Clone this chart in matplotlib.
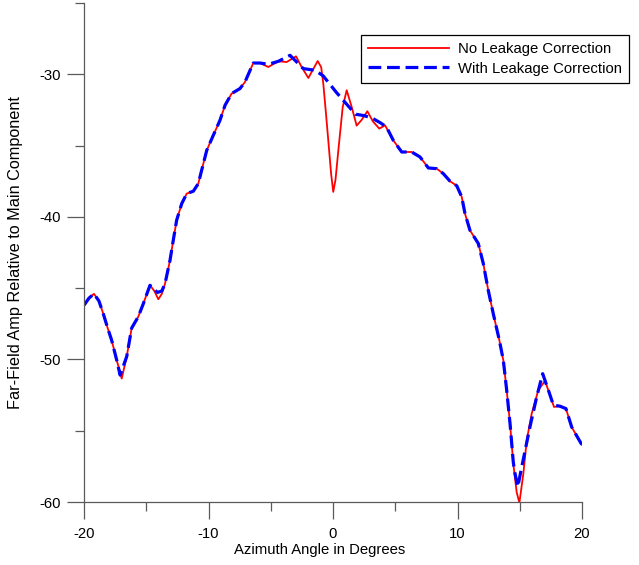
"""
Far-field amplitude vs azimuth, with and without leakage correction.
"""

import matplotlib.pyplot as plt
from matplotlib.ticker import MultipleLocator

# ---------- DATA ----------
no_corr_az = [
    -20.0, -19.6, -19.2, -18.8, -18.45, -18.1, -17.78, -17.37, -16.97, -16.57,
    -16.17, -15.64, -15.24, -14.7, -14.35, -14.03, -13.75, -13.49, -13.09, -12.83,
    -12.56, -12.15, -11.75, -11.22, -10.82, -10.55, -10.14, -9.6, -9.08, -8.67,
    -8.14, -7.47, -7.07, -6.7, -6.4, -5.86, -5.2, -4.39, -3.72, -2.97,
    -2.52, -1.98, -1.23, -0.95, -0.78, -0.58, -0.38, -0.15, 0.02, 0.2,
    0.43, 0.78, 1.1, 1.5, 1.9, 2.3, 2.76, 3.2, 3.72, 4.18,
    4.84, 5.52, 6.32, 6.99, 7.66, 8.33, 8.86, 9.4, 9.94, 10.34,
    10.6, 11.0, 11.67, 12.07, 12.47, 12.87, 13.36, 13.68, 13.95, 14.22,
    14.48, 14.75, 14.97, 15.29, 15.56, 15.96, 16.49, 17.03, 17.43, 17.75,
    18.23, 18.71, 19.17, 19.6, 20.0,
]
no_corr_amp = [
    -46.2, -45.7, -45.4, -45.9, -46.8, -47.8, -48.65, -50.06, -51.34, -49.8,
    -47.8, -47.0, -46.1, -44.8, -45.2, -45.78, -45.4, -44.68, -43.04, -41.64,
    -40.24, -39.07, -38.37, -38.2, -37.67, -36.73, -35.33, -34.25, -33.23, -32.17,
    -31.35, -31.0, -30.54, -29.8, -29.21, -29.21, -29.49, -29.09, -29.14, -28.74,
    -29.49, -30.26, -29.07, -29.5, -30.65, -32.6, -34.63, -37.0, -38.25, -37.4,
    -35.33, -32.29, -31.12, -32.29, -33.6, -33.2, -32.59, -33.3, -33.81, -33.58,
    -34.63, -35.45, -35.45, -35.8, -36.57, -36.62, -36.97, -37.5, -37.82, -38.6,
    -39.77, -40.94, -41.87, -43.27, -45.15, -46.78, -48.65, -50.06, -52.16, -54.5,
    -57.3, -59.3, -60.06, -58.0, -55.67, -53.8, -52.16, -51.5, -52.5, -53.33,
    -53.28, -53.45, -54.74, -55.4, -56.0,
]

with_corr_az = [
    -20.0, -19.6, -19.2, -18.8, -18.45, -18.1, -17.78, -17.37, -17.1, -16.57,
    -16.17, -15.64, -15.24, -14.7, -14.1, -13.75, -13.49, -13.09, -12.83,
    -12.56, -12.15, -11.75, -11.22, -10.82, -10.55, -10.14, -9.6, -9.08, -8.67,
    -8.14, -7.47, -7.07, -6.7, -6.4, -5.86, -5.2, -4.39, -3.45,
    -2.39, -1.45, -0.8, 0.3, 1.1, 1.8, 2.5, 3.2, 3.8, 4.3,
    4.84, 5.52, 6.32, 6.99,
    7.66, 8.33, 8.86, 9.4, 9.94, 10.34, 10.6, 11.0, 11.67, 12.07,
    12.47, 12.87, 13.36, 13.68, 13.95, 14.22, 14.48, 14.62, 14.84, 15.16,
    15.82, 16.36, 16.84, 17.3, 17.7, 18.23, 18.71, 19.17, 19.6,
    20.0,
]
with_corr_amp = [
    -46.2, -45.7, -45.4, -45.9, -46.8, -47.8, -48.65, -50.06, -51.1, -49.8,
    -47.8, -47.0, -46.1, -44.8, -45.3, -45.2, -44.68, -43.04, -41.64,
    -40.24, -39.07, -38.37, -38.2, -37.67, -36.73, -35.33, -34.25, -33.23, -32.17,
    -31.35, -31.0, -30.54, -29.8, -29.21, -29.21, -29.3, -29.09, -28.67,
    -29.6, -29.72, -30.1, -31.3, -32.1, -32.8, -32.9, -33.1, -33.4, -33.7,
    -34.63, -35.45, -35.45, -35.8,
    -36.57, -36.62, -36.97, -37.5, -37.82, -38.6, -39.77, -40.94, -41.87, -43.27,
    -45.15, -46.78, -48.65, -50.06, -52.16, -54.5, -57.2, -58.0, -58.94, -57.54,
    -54.73, -52.63, -51.0, -52.16, -53.2, -53.28, -53.45, -54.74, -55.4,
    -56.0,
]

x_major = [-20, -10, 0, 10, 20]
y_major = [-60, -50, -40, -30]

# ---------- PLOT ----------
plt.rcParams['font.family'] = ['Liberation Sans', 'DejaVu Sans']
plt.rcParams['font.size'] = 10.7
plt.rcParams['axes.unicode_minus'] = False

fig = plt.figure(figsize=(6.39, 5.65), dpi=100)
ax = fig.add_axes([84 / 639, 1 - 502 / 565, 498 / 639, 499 / 565])

ax.plot(no_corr_az, no_corr_amp, color='#ff0000', lw=1.3,
        label='No Leakage Correction')
ax.plot(with_corr_az, with_corr_amp, color='#0000ff', lw=2.3,
        linestyle=(0, (4, 1.8)), label='With Leakage Correction')

ax.set_xlim(-20, 20)
ax.set_ylim(-60, -25)
ax.set_xticks(x_major)
ax.set_yticks(y_major)
ax.xaxis.set_minor_locator(MultipleLocator(5))
ax.yaxis.set_minor_locator(MultipleLocator(5))

axis_grey = '#5a5a5a'
for side in ['top', 'right']:
    ax.spines[side].set_visible(False)
for side in ['left', 'bottom']:
    ax.spines[side].set_color(axis_grey)
    ax.spines[side].set_linewidth(0.9)
ax.tick_params(which='major', direction='out', length=12, width=0.9,
               color=axis_grey, labelsize=10.7, pad=5)
ax.tick_params(which='minor', direction='out', length=6.3, width=0.9,
               color=axis_grey)
ax.tick_params(axis='x', which='major', pad=6)

ax.set_ylabel('Far-Field Amp Relative to Main Component', fontsize=11.7)
ax.yaxis.set_label_coords(-0.1215, 0.5)
fig.text(0.5, 1 - 550 / 565, 'Azimuth Angle in Degrees', ha='center', va='center')

leg = ax.legend(loc='upper left', bbox_to_anchor=(361 / 639, 1 - 35 / 565),
                bbox_transform=fig.transFigure, borderaxespad=0,
                handlelength=5.4, handletextpad=0.6, labelspacing=0.35,
                borderpad=0.5, fancybox=False, framealpha=1)
leg.get_frame().set_edgecolor('black')
leg.get_frame().set_linewidth(0.9)

plt.savefig('out.png', dpi=100)
plt.close(fig)
